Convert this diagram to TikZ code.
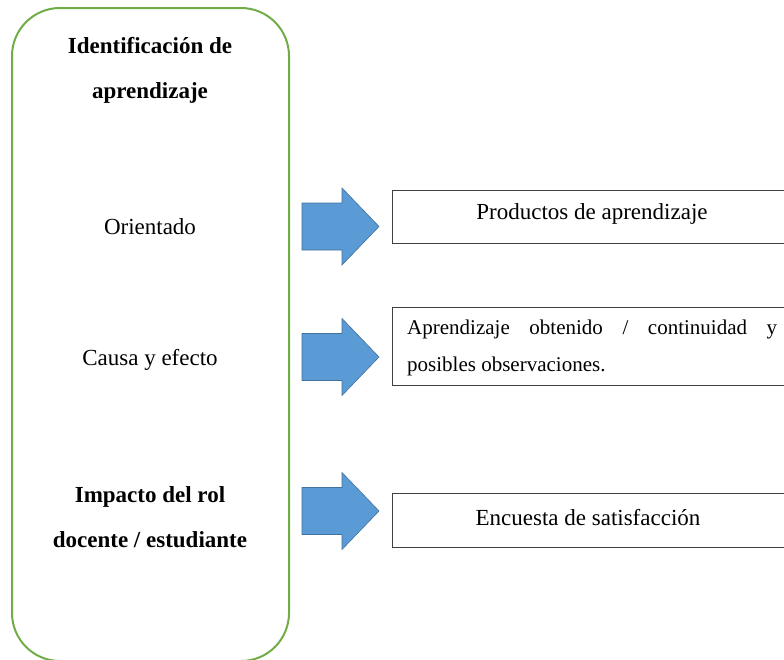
\documentclass[tikz,border=0pt]{standalone}
\usepackage{fontspec}
\setmainfont{Liberation Serif}
\definecolor{framegreen}{HTML}{70AD47}
\definecolor{arrowfill}{HTML}{5B9BD5}
\definecolor{arrowline}{HTML}{41719C}
\begin{document}
\begin{tikzpicture}[x=1pt,y=-1pt,
  bigtext/.style={font=\fontsize{23}{45}\selectfont, align=center, inner sep=0pt},
  boxtext/.style={font=\fontsize{23}{28}\selectfont, inner sep=0pt},
  outbox/.style={draw=black!75, line width=0.8pt},
  blockarrow/.style={fill=arrowfill, draw=arrowline, line width=0.6pt, line join=miter}]
\useasboundingbox (0,0) rectangle (784,659);
\clip (0,0) rectangle (784,659);
% left rounded frame
\draw[framegreen, line width=2pt, rounded corners=48pt] (12,8) rectangle (289,661);
\node[bigtext, font=\fontsize{23}{45}\selectfont\bfseries] (title) at (150,70) {Identificación de\\aprendizaje};
\node[bigtext] (orient) at (150,227) {Orientado};
\node[bigtext] (causa) at (150,360) {Causa y efecto};
\node[bigtext, font=\fontsize{23}{45}\selectfont\bfseries] (impacto) at (150,517) {Impacto del rol\\docente / estudiante};
% output boxes
\draw[outbox] (392,190) rectangle (792,243);
\draw[outbox] (392,307) rectangle (792,385);
\draw[outbox] (392,493) rectangle (792,547);
\node[boxtext] (prod) at (592,214) {Productos de aprendizaje};
\node[font=\fontsize{21}{37}\selectfont, align=left, inner sep=0pt, anchor=north west] (aprend) at (407,320) {\makebox[370pt][s]{Aprendizaje obtenido / continuidad y}\\posibles observaciones.};
\node[boxtext] (encuesta) at (588,518) {Encuesta de satisfacción};
% block arrows
\foreach \c/\n in {226.5/a1, 357/a2, 511/a3}{
  \draw[blockarrow] (302,\c-23.5) -- (342,\c-23.5) -- (342,\c-38.5) -- (379,\c) -- (342,\c+38.5) -- (342,\c+23.5) -- (302,\c+23.5) -- cycle;
}
\end{tikzpicture}
\end{document}
